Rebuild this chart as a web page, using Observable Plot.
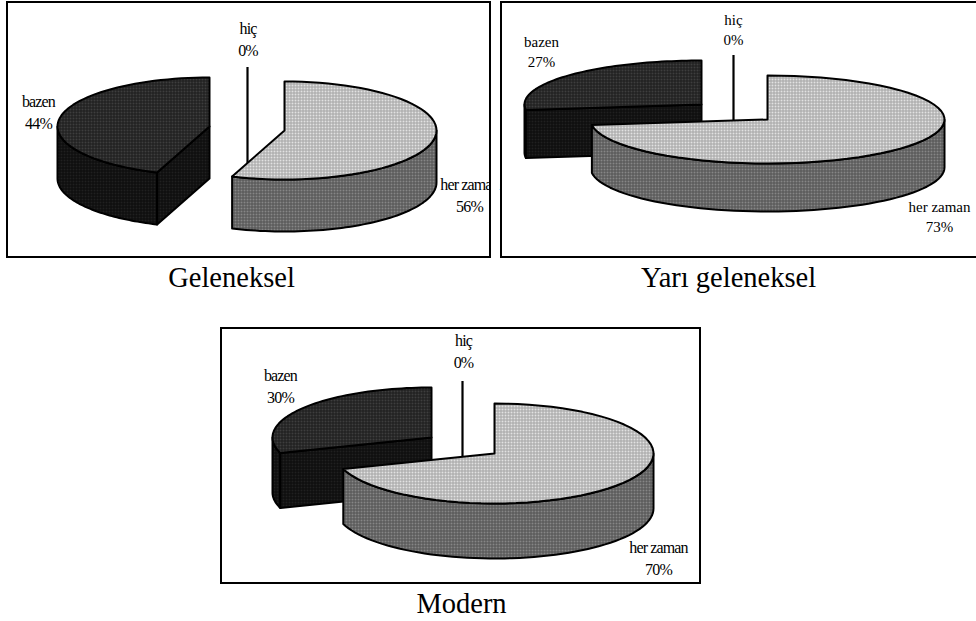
<!DOCTYPE html>
<html>
<head>
<meta charset="utf-8">
<style>
html,body{margin:0;padding:0;background:#fff;overflow:hidden}
svg{display:block}
</style>
<script src="https://cdn.jsdelivr.net/npm/d3@7"></script>
<script src="https://cdn.jsdelivr.net/npm/@observablehq/plot@0.6"></script>
</head>
<body>
<script>
// Data
const categories = ["her zaman", "bazen", "hiç"];
const geleneksel = [55.6, 44.4, 0];
const yariGeleneksel = [73, 27, 0];
const modern = [70, 30, 0];
const chartTitles = ["Geleneksel", "Yarı geleneksel", "Modern"];

// Layout of the three framed pies (pixel space of the picture)
const panels = [
  {title: chartTitles[0], values: geleneksel, tight: true, frame: [7, 2, 490, 257], titleAt: [231, 277],
   cx: 284, cy: 130, a: 152, b: 49, depth: 52, dx: -75, dy: -4, rule: [247, 67, 165],
   labels: [[469, 184], [38, 101], [247.5, 28]]},
  {title: chartTitles[1], values: yariGeleneksel, tight: false, frame: [501, 2, 978, 257], titleAt: [728, 277],
   cx: 767, cy: 119, a: 177, b: 44, depth: 48, dx: -66, dy: -15, rule: [733, 55, 121],
   labels: [[939, 207], [541, 42], [733, 20]]},
  {title: chartTitles[2], values: modern, tight: true, frame: [221, 328, 700, 583], titleAt: [461, 603],
   cx: 494, cy: 453, a: 159, b: 50, depth: 55, dx: -63, dy: -16, rule: [462, 381, 456],
   labels: [[658, 547], [280, 375], [463, 340]]}
];

const rad = d => d * Math.PI / 180;
const pt = (p, t, ox = 0, oy = 0) => ({x: p.cx + ox + p.a * Math.sin(rad(t)), y: p.cy + oy - p.b * Math.cos(rad(t))});
const arc = (p, t0, t1, ox, oy) => d3.range(0, 61).map(i => pt(p, t0 + (t1 - t0) * i / 60, ox, oy));

function topFace(p, t0, t1, ox = 0, oy = 0) {
  return [{x: p.cx + ox, y: p.cy + oy}, ...arc(p, t0, t1, ox, oy)];
}
function rimFace(p, t0, t1, ox = 0, oy = 0) {
  const s = Math.max(t0, 90), e = Math.min(t1, 270);
  return [...arc(p, s, e, ox, oy), ...arc(p, s, e, ox, oy + p.depth).reverse()];
}
function cutFace(p, t, ox, oy) {
  const c = pt(p, t, ox, oy), x0 = p.cx + ox, y0 = p.cy + oy;
  return [c, {x: x0, y: y0}, {x: x0, y: y0 + p.depth}, {x: c.x, y: c.y + p.depth}];
}

const outline = {x: "x", y: "y", stroke: "#000", strokeWidth: 2, curve: "linear-closed", strokeLinejoin: "round"};
const face = (pts, fill) => Plot.line(pts, {...outline, fill});

function patternDefs() {
  const defs = d3.create("svg:defs");
  const add = (id, base, hi) => {
    const p = defs.append("pattern").attr("id", id).attr("patternUnits", "userSpaceOnUse")
      .attr("width", 3).attr("height", 3);
    p.append("rect").attr("width", 3).attr("height", 3).attr("fill", base);
    p.append("rect").attr("width", 2).attr("height", 2).attr("fill", hi);
  };
  add("lightTop", "#a4a4a4", "#e2e2e2");
  add("lightSide", "#525252", "#868686");
  add("darkTop", "#1c1c1c", "#3e3e3e");
  add("darkSide", "#0a0a0a", "#202020");
  return defs.node();
}

const marks = [patternDefs];
const labelRows = [];

for (const p of panels) {
  const split = 3.6 * p.values[0];
  // detached "bazen" slice
  marks.push(face(rimFace(p, split, 360, p.dx, p.dy), "url(#darkSide)"));
  marks.push(face(cutFace(p, split, p.dx, p.dy), "url(#darkSide)"));
  marks.push(face(topFace(p, split, 360, p.dx, p.dy), "url(#darkTop)"));
  // zero-size "hiç" slice is a thin blade
  marks.push(Plot.ruleX([p.rule[0]], {x: d => d, y1: p.rule[1], y2: p.rule[2], stroke: "#000", strokeWidth: 2.2}));
  // "her zaman" slice
  marks.push(face(rimFace(p, 0, split), "url(#lightSide)"));
  marks.push(face(topFace(p, 0, split), "url(#lightTop)"));
  categories.forEach((c, i) => {
    const [x, y] = p.labels[i];
    labelRows.push({tight: p.tight, x, y, text: c});
    labelRows.push({tight: p.tight, x, y: y + (p.tight ? 22.5 : 20), text: Math.round(p.values[i]) + "%"});
  });
}

const labelStyle = {x: "x", y: "y", text: "text", fill: "#000", fontFamily: "Liberation Serif", textAnchor: "middle"};
marks.push(Plot.text(labelRows.filter(d => d.tight), {
  ...labelStyle, fontSize: 16,
  render(index, scales, values, dimensions, context, next) {
    const g = next(index, scales, values, dimensions, context);
    g.style.letterSpacing = "-0.85px";
    return g;
  }
}));
marks.push(Plot.text(labelRows.filter(d => !d.tight), {...labelStyle, fontSize: 15}));

// the first frame cuts off its outer label
marks.push(Plot.rect([panels[0].frame], {x1: d => d[2] - 1, x2: panels[1].frame[0] - 2, y1: 170, y2: 200, fill: "#fff"}));

marks.push(Plot.rect(panels, {
  x1: d => d.frame[0], y1: d => d.frame[1], x2: d => d.frame[2], y2: d => d.frame[3],
  stroke: "#000", strokeWidth: 2, fill: "none"
}));
marks.push(Plot.text(panels, {
  x: d => d.titleAt[0], y: d => d.titleAt[1], text: "title",
  fontFamily: "Liberation Serif", fontSize: 28.5, fill: "#000", textAnchor: "middle"
}));

const chart = Plot.plot({
  width: 976, height: 621, margin: 0,
  x: {domain: [0, 976], range: [0, 976], axis: null},
  y: {domain: [0, 621], range: [0, 621], axis: null},
  style: {background: "#fff"},
  marks
});
document.body.appendChild(chart);
</script>
</body>
</html>
